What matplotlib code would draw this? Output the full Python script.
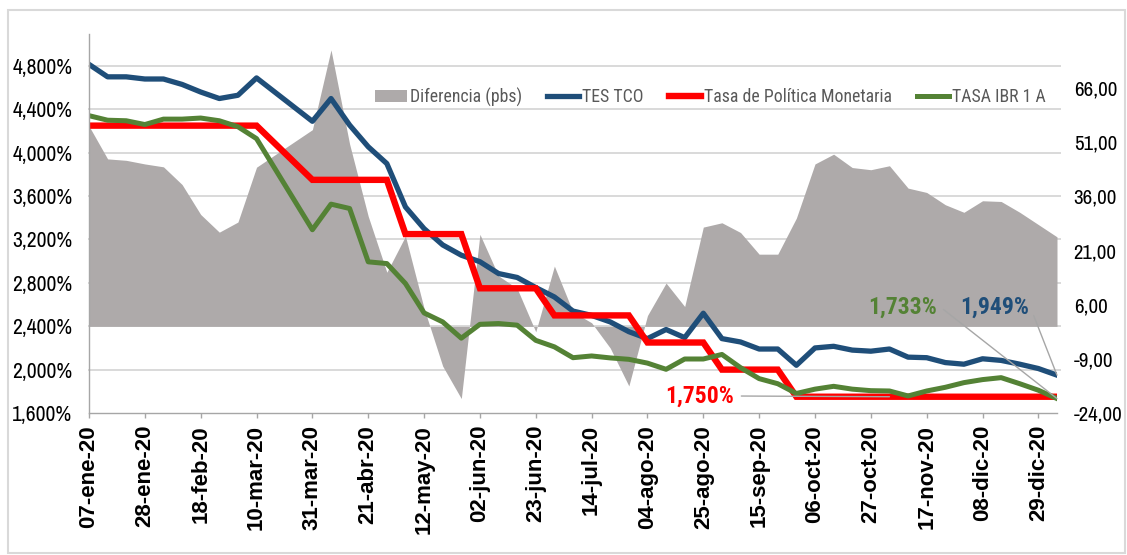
import matplotlib
matplotlib.use("Agg")
import matplotlib.pyplot as plt
from matplotlib.patches import Patch, Rectangle
from matplotlib.lines import Line2D
from matplotlib.transforms import blended_transform_factory
from matplotlib import font_manager
import pandas as pd

# ---------------- data ----------------
dates = ["2020-01-07", "2020-01-14", "2020-01-21", "2020-01-28", "2020-02-04", "2020-02-11",
         "2020-02-18", "2020-02-25", "2020-03-03", "2020-03-10", "2020-03-31", "2020-04-07",
         "2020-04-14", "2020-04-21", "2020-04-28", "2020-05-05", "2020-05-12", "2020-05-19",
         "2020-05-26", "2020-06-02", "2020-06-09", "2020-06-16", "2020-06-23", "2020-06-30",
         "2020-07-07", "2020-07-14", "2020-07-21", "2020-07-28", "2020-08-04", "2020-08-11",
         "2020-08-18", "2020-08-25", "2020-09-01", "2020-09-08", "2020-09-15", "2020-09-22",
         "2020-09-29", "2020-10-06", "2020-10-13", "2020-10-20", "2020-10-27", "2020-11-03",
         "2020-11-10", "2020-11-17", "2020-11-24", "2020-12-01", "2020-12-08", "2020-12-15",
         "2020-12-22", "2020-12-29", "2021-01-05"]

tes_tco = [4.815, 4.70, 4.70, 4.68, 4.68, 4.63, 4.56, 4.50, 4.53, 4.69, 4.29, 4.50,
           4.255, 4.055, 3.90, 3.50, 3.30, 3.15, 3.055, 2.995, 2.886, 2.85, 2.757, 2.67,
           2.54, 2.50, 2.44, 2.35, 2.286, 2.37, 2.295, 2.52, 2.286, 2.255, 2.19, 2.19,
           2.04, 2.20, 2.215, 2.18, 2.17, 2.19, 2.115, 2.11, 2.065, 2.05, 2.10, 2.085,
           2.05, 2.01, 1.949]

tasa_politica = [4.25, 4.25, 4.25, 4.25, 4.25, 4.25, 4.25, 4.25, 4.25, 4.25, 3.75, 3.75,
                 3.75, 3.75, 3.75, 3.25, 3.25, 3.25, 3.25, 2.75, 2.75, 2.75, 2.75, 2.50,
                 2.50, 2.50, 2.50, 2.50, 2.25, 2.25, 2.25, 2.25, 2.00, 2.00, 2.00, 2.00,
                 1.75, 1.75, 1.75, 1.75, 1.75, 1.75, 1.75, 1.75, 1.75, 1.75, 1.75, 1.75,
                 1.75, 1.75, 1.75]

tasa_ibr = [4.342, 4.30, 4.295, 4.26, 4.31, 4.31, 4.32, 4.295, 4.24, 4.13, 3.29, 3.526,
            3.486, 2.994, 2.978, 2.794, 2.523, 2.44, 2.29, 2.418, 2.425, 2.41, 2.27, 2.21,
            2.11, 2.126, 2.108, 2.095, 2.06, 2.003, 2.098, 2.098, 2.14, 2.018, 1.917, 1.87,
            1.78, 1.82, 1.846, 1.82, 1.806, 1.803, 1.757, 1.803, 1.837, 1.88, 1.908, 1.926,
            1.87, 1.81, 1.733]

diferencia = [55.5, 46.4, 46.0, 45.0, 44.2, 39.3, 31.0, 26.1, 28.9, 44.1, 54.5, 76.6,
              50.5, 30.5, 15.0, 25.0, 5.0, -11.0, -20.0, 25.5, 14.0, 10.5, -1.5, 16.7,
              4.0, 1.0, -6.0, -16.5, 3.0, 12.0, 5.5, 27.5, 28.7, 26.0, 20.0, 20.0,
              30.0, 45.0, 47.7, 44.0, 43.4, 44.5, 38.3, 37.1, 33.7, 31.6, 34.8, 34.6,
              31.6, 28.2, 24.8]

tick_dates = ["2020-01-07", "2020-01-28", "2020-02-18", "2020-03-10", "2020-03-31", "2020-04-21",
              "2020-05-12", "2020-06-02", "2020-06-23", "2020-07-14", "2020-08-04", "2020-08-25",
              "2020-09-15", "2020-10-06", "2020-10-27", "2020-11-17", "2020-12-08", "2020-12-29"]
tick_labels = ["07-ene-20", "28-ene-20", "18-feb-20", "10-mar-20", "31-mar-20", "21-abr-20",
               "12-may-20", "02-jun-20", "23-jun-20", "14-jul-20", "04-ago-20", "25-ago-20",
               "15-sep-20", "06-oct-20", "27-oct-20", "17-nov-20", "08-dic-20", "29-dic-20"]

left_ticks = [1.6, 2.0, 2.4, 2.8, 3.2, 3.6, 4.0, 4.4, 4.8]
right_ticks = [-24, -9, 6, 21, 36, 51, 66]

series_names = ["Diferencia (pbs)", "TES TCO", "Tasa de Política Monetaria", "TASA IBR 1 A"]

# ---------------- style ----------------
avail = {f.name for f in font_manager.fontManager.ttflist}


def pick(cands, default):
    for c in cands:
        if c in avail:
            return c
    return default


SANS = pick(["Liberation Sans", "Arimo"], "DejaVu Sans")
NARROW = pick(["Liberation Sans Narrow", "Arial Narrow", "Archivo Narrow", "PT Sans Narrow",
               "Roboto Condensed"], SANS)
SOFT = pick(["Roboto Condensed", "PT Sans Narrow", "Archivo Narrow"], SANS)
shrink = 1.0 if NARROW != SANS else 0.82

C_AREA = "#AEAAAA"
C_BLUE = "#1F4E79"
C_RED = "#FF0000"
C_GREEN = "#548235"
C_GRID = "#D9D9D9"
C_AXIS = "#A6A6A6"

W, H = 1127, 555
fig = plt.figure(figsize=(W / 100, H / 100), dpi=100, facecolor="white")

x = pd.to_datetime(dates)

rect = [89 / W, 1 - 413 / H, (1057 - 89) / W, (413 - 34) / H]
axL = fig.add_axes(rect)
axR = axL.twinx()
axL.set_zorder(2)
axR.set_zorder(1)
axL.patch.set_visible(False)

axL.set_xlim(x[0], x[-1])
axL.set_ylim(1.6, 5.095)
axR.set_ylim(-24, 81)

# gridlines (left-axis values) drawn beneath the area
gtrans = blended_transform_factory(axR.transAxes, axL.transData)
for v in left_ticks[1:]:
    axR.add_artist(Line2D([0, 1.003], [v, v], transform=gtrans, color=C_GRID, lw=1.4,
                          zorder=0.5, clip_on=False))

# area on secondary axis
axR.fill_between(x, 0, diferencia, color=C_AREA, lw=0, zorder=1)

# lines on primary axis
axL.plot(x, tes_tco, color=C_BLUE, lw=3.8, solid_joinstyle="round", zorder=2)
axL.plot(x, tasa_politica, color=C_RED, lw=4.6, solid_joinstyle="miter", zorder=2.1)
axL.plot(x, tasa_ibr, color=C_GREEN, lw=3.6, solid_joinstyle="round", zorder=2.2)

# spines
for s in ["top", "right"]:
    axL.spines[s].set_visible(False)
for s in ["left", "bottom"]:
    axL.spines[s].set_color(C_AXIS)
    axL.spines[s].set_linewidth(1.0)
for s in axR.spines.values():
    s.set_visible(False)

# y ticks
axL.set_yticks(left_ticks)
axL.set_yticklabels([f"{v:.3f}".replace(".", ",") + "%" for v in left_ticks],
                    fontsize=15.5 * shrink, fontweight="bold", family=NARROW)
axL.tick_params(axis="y", length=0, pad=12)

axR.set_yticks(right_ticks)
axR.set_yticklabels([f"{v:.2f}".replace(".", ",") for v in right_ticks],
                    fontsize=15 * shrink, fontweight="bold", family=NARROW)
axR.tick_params(axis="y", length=0, pad=12)

# x ticks
axL.set_xticks(pd.to_datetime(tick_dates))
axL.set_xticklabels(tick_labels, rotation=90, fontsize=16, fontweight="bold", family=SANS)
axL.tick_params(axis="x", length=3.6, width=1.0, color=C_AXIS, pad=5)
axL.minorticks_off()

# data labels with leader lines
lbl_kw = dict(textcoords="figure pixels", ha="center", va="center",
              fontsize=17 * shrink, fontweight="bold", family=SOFT, zorder=5)
arr_kw = dict(arrowstyle="-", color=C_AXIS, lw=1.0, shrinkA=3, shrinkB=0)
i_lbl = dates.index("2020-11-03")
axL.annotate("1,750%", xy=(x[i_lbl], tasa_politica[i_lbl]), xytext=(700, H - 396),
             color=C_RED, arrowprops=dict(relpos=(1, 0.5), **arr_kw), **lbl_kw)
axL.annotate("1,733%", xy=(x[-1], tasa_ibr[-1]), xytext=(903, H - 307),
             color=C_GREEN, arrowprops=dict(relpos=(1, 0.6), **arr_kw), **lbl_kw)
axL.annotate("1,949%", xy=(x[-1], tes_tco[-1]), xytext=(995, H - 307),
             color=C_BLUE, arrowprops=dict(relpos=(1, 0.6), **arr_kw), **lbl_kw)

# legend
handles = [Patch(facecolor=C_AREA, edgecolor="none"),
           Line2D([], [], color=C_BLUE, lw=3.8),
           Line2D([], [], color=C_RED, lw=4.6),
           Line2D([], [], color=C_GREEN, lw=3.6)]
leg = fig.legend(handles, series_names, loc="center left",
                 bbox_to_anchor=(375 / W, 1 - 97 / H), ncol=4, frameon=False,
                 handlelength=1.8, handletextpad=0.15, columnspacing=1.45,
                 borderaxespad=0, borderpad=0,
                 prop={"family": SOFT, "size": 12.75 * shrink})
for t in leg.get_texts():
    t.set_color("#595959")

# outer chart border
fig.add_artist(Rectangle((8 / W, 1 - 553 / H), (1125 - 8) / W, (553 - 10) / H,
                         transform=fig.transFigure, fill=False, ec=C_GRID, lw=1.5))

fig.savefig("out.png", dpi=100, facecolor="white")
